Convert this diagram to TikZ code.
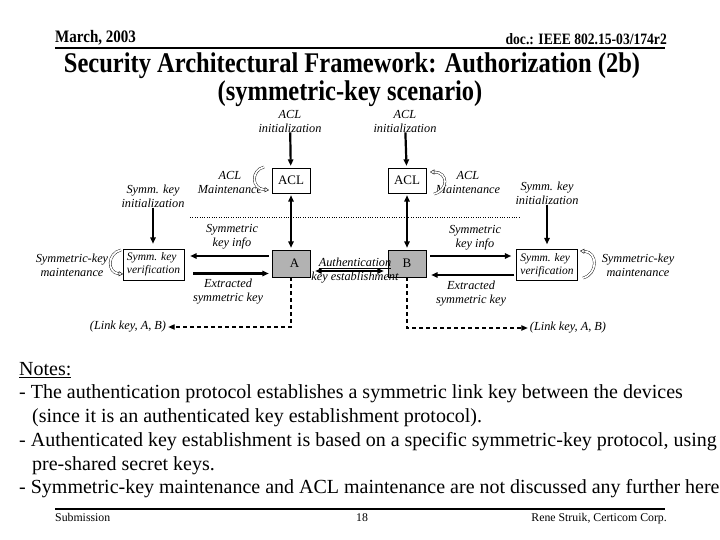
\documentclass[tikz,border=0pt]{standalone}
\usepackage{fontspec}
\setmainfont{Liberation Serif}
\newfontfamily\narrowserif[FakeStretch=0.86]{Liberation Serif}
\usetikzlibrary{arrows.meta, positioning}
\tikzset{
	shorten >=2pt,
	tri/.tip={Triangle[angle=45:7pt]},
	otri/.tip={Triangle[open, angle=60:5pt]},
	% text
	lbl/.style={font=\fontsize{12.3}{14}\selectfont\itshape, align=center, inner sep=0pt},
	% boxes
	aclbox/.style={draw, minimum width=38pt, minimum height=25pt, inner sep=0pt, font=\fontsize{13}{14}\selectfont},
	devbox/.style={draw, fill=gray!60, minimum width=38pt, minimum height=27pt, inner sep=0pt, font=\fontsize{13}{14}\selectfont},
	verbox/.style={draw, minimum width=61pt, minimum height=31pt, inner sep=1pt, align=left, font=\fontsize{11.5}{13}\selectfont\itshape},
	% connectors
	flow/.style={line width=2.2pt, -tri},
	linkkey/.style={line width=1.2pt, dash pattern=on 4pt off 3pt, -tri},
	maint/.style={double, double distance=1.8pt, thin, shorten >=0pt, -otri},
	% page text
	hdr/.style={inner sep=0pt, font=\narrowserif\bfseries\fontsize{15.8}{17}\selectfont},
	ftr/.style={inner sep=0pt, font=\fontsize{11.8}{14}\selectfont},
	ttl/.style={anchor=base, inner sep=0pt, font=\narrowserif\bfseries\fontsize{28.5}{31}\selectfont}
}

\begin{document}
\begin{tikzpicture}[x=1pt, y=-1pt]
	\useasboundingbox (0,0) rectangle (720,540);
	
	% Header
	\node[hdr, anchor=base west, font=\narrowserif\bfseries\fontsize{17.5}{18}\selectfont] (date) at (55,43) {March, 2003};
	\node[hdr, anchor=base east] (doc) at (667,45) {doc.: IEEE 802.15-03/174r2};
	\draw[line width=2pt] (55,48) -- (667,48);
	\node[ttl] (title) at (352,73) {Security Architectural Framework: Authorization (2b)};
	\node[ttl] (subtitle) at (350,101) {(symmetric-key scenario)};
	
	% ACL
	\node[lbl] (initA) at (290,121) {ACL\\initialization};
	\node[lbl] (initB) at (405,121) {ACL\\initialization};
	\node[aclbox] (aclA) at (291,180.5) {ACL};
	\node[aclbox] (aclB) at (407,180.5) {ACL};
	\node[lbl] (maintA) at (230,182) {ACL\\Maintenance};
	\node[lbl] (maintB) at (468,182) {ACL\\Maintenance};
	
	% Devices
	\node[devbox] (A) at (291,263.5) {\hspace*{7pt}A};
	\node[devbox] (B) at (407,263.5) {B};
	\node[lbl] (auth) at (355,271) {\underline{Authentication}\\key establishment};
	
	% Symmetric keys
	\node[lbl] (skinitA) at (153,196) {Symm. key\\initialization};
	\node[lbl] (skinitB) at (547,193) {Symm. key\\initialization};
	\node[verbox] (verA) at (153.5,264.5) {Symm. key\\verification};
	\node[verbox] (verB) at (547,265) {Symm. key\\verification};
	\node[lbl] (skmA) at (72,265) {Symmetric-key\\maintenance};
	\node[lbl] (skmB) at (638,265) {Symmetric-key\\maintenance};
	\node[lbl] (infoA) at (232,236.5) {Symmetric\\key info};
	\node[lbl] (infoB) at (475,237.5) {Symmetric\\key info};
	\node[lbl] (extrA) at (228,291.5) {Extracted\\symmetric key};
	\node[lbl] (extrB) at (471,293.5) {Extracted\\symmetric key};
	\node[lbl] (lkA) at (128,327) {(Link key, A, B)};
	\node[lbl] (lkB) at (568,328) {(Link key, A, B)};
	
	\coordinate (dotL) at (190,217);
	\coordinate (dotR) at (523,217);
	\draw[dotted] (dotL) -- (dotR);
	
	\draw[flow] (initA) -- (aclA);
	\draw[flow] (initB) -- (aclB);
	\draw[flow, tri-tri, shorten <=2pt] (aclA) -- (A);
	\draw[flow, tri-tri, shorten <=2pt] (aclB) -- (B);
	\draw[flow, shorten >=5pt] (skinitA) -- (skinitA |- verA.north);
	\draw[flow, shorten >=5pt] (skinitB) -- (skinitB |- verB.north);
	\draw[line width=2pt, tri-tri, shorten <=5pt, shorten >=4pt] (A.east |- auth) -- (B.west |- auth);
	\draw[flow, shorten <=3pt, shorten >=6pt] ([yshift=7.5pt]A.west) -- ([yshift=7.5pt]A.west -| verA.east);
	\draw[flow, shorten <=9pt, shorten >=3pt] ([yshift=-9pt]verA.east) -- ([yshift=-9pt]verA.east -| A.west);
	\draw[flow, shorten <=4pt, shorten >=5pt] ([yshift=7.5pt]B.east) -- ([yshift=7.5pt]B.east -| verB.west);
	\draw[flow, shorten <=2pt, shorten >=5pt] ([yshift=-10pt]verB.west) -- ([yshift=-10pt]verB.west -| B.east);
	\draw[linkkey] (A.south) |- (lkA.east);
	\draw[linkkey] (B.south) |- (lkB.west);
	
	% Maintenance loops
	\draw[maint] (264,167) .. controls (251,170) and (251,189) .. (269,190);
	\draw[maint] (434,194) .. controls (449,190) and (448,172) .. (430,172);
	\draw[maint] (121,250) .. controls (107,253) and (107,273) .. (123,274);
	\draw[maint] (583,278) .. controls (598,274) and (598,252) .. (580,251);
	
	% Notes
	\node[anchor=north west, inner sep=0pt, align=left, font=\fontsize{20}{23.7}\selectfont] (notes) at (19,362) {\underline{Notes:}\\
		- The authentication protocol establishes a symmetric link key between the devices\\
		\hspace*{13pt}(since it is an authenticated key establishment protocol).\\
		- Authenticated key establishment is based on a specific symmetric-key protocol, using\\
		\hspace*{13pt}pre-shared secret keys.\\
		- Symmetric-key maintenance and ACL maintenance are not discussed any further here};
	
	% Footer
	\draw[line width=2pt] (55,509) -- (667,509);
	\node[ftr, anchor=base west] (subm) at (55,521) {Submission};
	\node[ftr, anchor=base] (page) at (362,521) {18};
	\node[ftr, anchor=base east] (credit) at (667,521) {Rene Struik, Certicom Corp.};
\end{tikzpicture}
\end{document}
